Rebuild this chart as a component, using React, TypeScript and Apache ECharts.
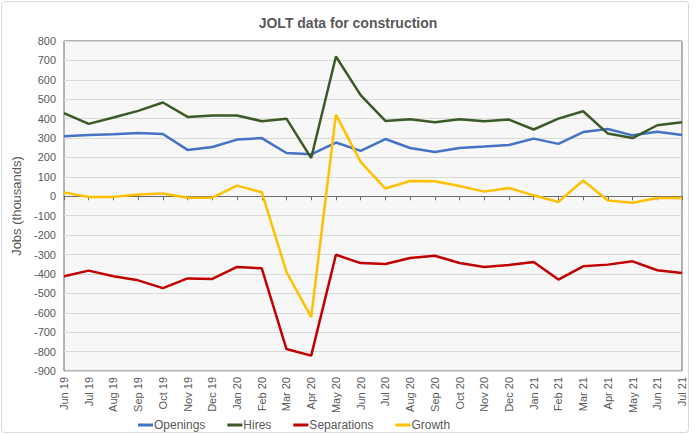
import React, { useEffect, useRef } from "react";
import * as echarts from "echarts";

const categories = [
  "Jun 19", "Jul 19", "Aug 19", "Sep 19", "Oct 19", "Nov 19", "Dec 19",
  "Jan 20", "Feb 20", "Mar 20", "Apr 20", "May 20", "Jun 20", "Jul 20",
  "Aug 20", "Sep 20", "Oct 20", "Nov 20", "Dec 20", "Jan 21", "Feb 21",
  "Mar 21", "Apr 21", "May 21", "Jun 21", "Jul 21",
];

const openings = [309, 316, 320, 326, 321, 239, 254, 292, 300, 223, 216, 277, 234, 295, 249, 228, 249, 256, 264, 297, 270, 331, 347, 314, 333, 316];
const hires = [428, 373, 406, 440, 483, 409, 416, 416, 387, 400, 197, 720, 521, 388, 397, 381, 397, 387, 395, 344, 400, 438, 323, 300, 366, 381];
const separations = [-412, -383, -412, -433, -473, -423, -426, -364, -371, -787, -821, -301, -344, -349, -318, -306, -344, -364, -354, -339, -429, -361, -352, -335, -381, -395];
const growth = [19, -3, -3, 9, 14, -7, -7, 55, 21, -390, -622, 421, 177, 40, 79, 77, 53, 24, 43, 5, -29, 81, -22, -33, -9, -9];

const seriesNames = ["Openings", "Hires", "Separations", "Growth"];
const seriesColors = ["#4472c4", "#3b5a26", "#c00000", "#ffc000"];
const seriesData = [openings, hires, separations, growth];

const textColor = "#595959";
const font = "'Liberation Sans', Arial, sans-serif";

export default function App() {
  const ref = useRef<HTMLDivElement>(null);
  useEffect(() => {
    if (!ref.current) return;
    const chart = echarts.init(ref.current, null, { renderer: "svg" });
    chart.setOption({
      animation: false,
      textStyle: { fontFamily: font },
      graphic: [
        {
          type: "rect",
          shape: { x: 1.5, y: 1.5, width: 687, height: 431, r: 3 },
          style: { fill: "none", stroke: "#d9d9d9", lineWidth: 1 },
          silent: true,
        },
      ],
      title: {
        text: "JOLT data for construction",
        left: "center",
        top: 11,
        textStyle: { fontSize: 14, fontWeight: "bold", color: textColor, fontFamily: font },
      },
      legend: {
        data: seriesNames,
        left: 138,
        top: 419,
        padding: 0,
        itemWidth: 15,
        itemHeight: 3,
        itemGap: 22,
        icon: "rect",
        textStyle: { fontSize: 12, color: textColor, fontFamily: font, padding: [0, 0, 0, -4] },
      },
      grid: {
        left: 64,
        right: 14,
        top: 41,
        bottom: 64,
        show: true,
        backgroundColor: "#f7f7f7",
        borderColor: "#6b6b6b",
        borderWidth: 1,
      },
      xAxis: [
        {
          type: "category",
          data: categories,
          boundaryGap: false,
          position: "bottom",
          axisLine: { show: false, onZero: false },
          axisTick: { show: false },
          axisLabel: {
            rotate: 90,
            fontSize: 11,
            color: textColor,
            margin: 6,
            interval: 0,
            fontFamily: font,
          },
          splitLine: { show: false },
        },
        {
          type: "category",
          data: categories,
          boundaryGap: false,
          position: "bottom",
          axisLine: { show: true, onZero: true, lineStyle: { color: "#6b6b6b", width: 1 } },
          axisTick: { show: true, length: 4, interval: 0, lineStyle: { color: "#6b6b6b" } },
          axisLabel: { show: false },
          splitLine: { show: false },
        },
      ],
      yAxis: {
        type: "value",
        min: -900,
        max: 800,
        interval: 100,
        name: "Jobs (thousands)",
        nameLocation: "middle",
        nameGap: 36,
        nameTextStyle: { fontSize: 13, color: textColor, fontFamily: font },
        axisLine: { show: false },
        axisTick: { show: false },
        axisLabel: { fontSize: 11, color: textColor, margin: 8, fontFamily: font },
        splitLine: { show: true, lineStyle: { color: "#d9d9d9", width: 1 } },
      },
      series: seriesNames.map((name, i) => ({
        name,
        type: "line",
        data: seriesData[i],
        xAxisIndex: 0,
        symbol: "none",
        lineStyle: { color: seriesColors[i], width: 2.5 },
        itemStyle: { color: seriesColors[i] },
      })),
    });
    return () => chart.dispose();
  }, []);
  return <div ref={ref} style={{ width: 696, height: 435, position: "absolute", left: 0, top: 0 }} />;
}
